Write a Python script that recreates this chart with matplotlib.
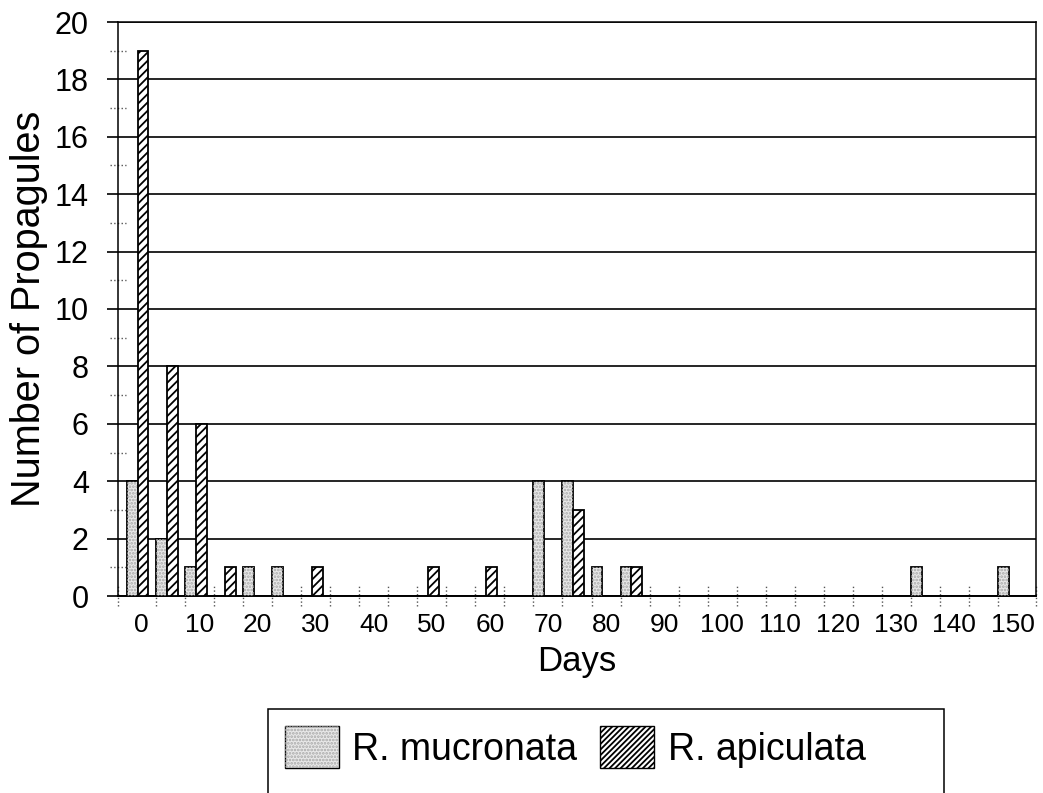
import matplotlib; matplotlib.use("Agg")
import matplotlib.pyplot as plt
import numpy as np
from matplotlib.patches import Patch, Rectangle

# days since start (5-day classes) and propagule counts per species
days = list(range(0, 151, 5))
mucronata = [4, 2, 1, 0, 1, 1, 0, 0, 0, 0, 0, 0, 0, 0, 4, 4,
             1, 1, 0, 0, 0, 0, 0, 0, 0, 0, 0, 1, 0, 0, 1]
apiculata = [19, 8, 6, 1, 0, 0, 1, 0, 0, 0, 1, 0, 1, 0, 0, 3,
             0, 1, 0, 0, 0, 0, 0, 0, 0, 0, 0, 0, 0, 0, 0]
tick_labels = [str(d) for d in days[::2]]

plt.rcParams["font.family"] = ["Liberation Sans", "DejaVu Sans"]
plt.rcParams["hatch.linewidth"] = 1.3

W, H = 1043, 793
fig = plt.figure(figsize=(W / 100, H / 100), dpi=100)
ax = fig.add_axes([118 / W, 1 - 596 / H, (1036 - 118) / W, (596 - 22) / H])

x = np.arange(len(days)); w = 0.37
STIP = "#e9e9e9"
# R. mucronata: light stippled fill
ax.bar(x - 0.315, mucronata, w, color=STIP, edgecolor="black", linewidth=1.3, zorder=3)
ax.bar(x - 0.315, mucronata, w, fill=False, hatch=".....", edgecolor="#a8a8a8", linewidth=0, zorder=3)
# R. apiculata: diagonal hatch
ax.bar(x + 0.055, apiculata, w, color="white", edgecolor="black", hatch="////", linewidth=1.3, zorder=3)

ax.set_xlim(-0.81, len(days) - 1 + 0.81)
ax.set_ylim(0, 20)
ax.set_yticks(np.arange(0, 21, 2))
ax.yaxis.grid(True, color="black", linewidth=1.2)
ax.set_axisbelow(True)
ax.tick_params(axis="y", direction="out", length=8, width=1.2, labelsize=22, pad=13)
ax.set_xticks(x[::2]); ax.set_xticklabels(tick_labels)
ax.tick_params(axis="x", length=0, labelsize=19, pad=12)
for s in ax.spines.values():
    s.set_color("black"); s.set_linewidth(1.1)
ax.spines["bottom"].set_linewidth(1.4)

# dotted minor ticks, as in the original spreadsheet chart
bnd = np.concatenate([[ax.get_xlim()[0]], x[:-1] + 0.5, [ax.get_xlim()[1]]])
ax.vlines(bnd, -0.018, 0.019, transform=ax.get_xaxis_transform(), colors="#555555",
          linestyles=":", linewidth=1, clip_on=False)
ax.hlines(np.arange(1, 20, 2), -0.009, 0.009, transform=ax.get_yaxis_transform(),
          colors="#555555", linestyles=":", linewidth=1, clip_on=False)

ax.set_xlabel("Days", fontsize=25, labelpad=6)
ax.set_ylabel("Number of Propagules", fontsize=28.5, labelpad=5)

# legend box runs off the bottom edge of the figure
fig.add_artist(Rectangle((268 / W, -0.05), (944 - 268) / W, (793 - 709) / H + 0.05,
                         transform=fig.transFigure, fill=False, edgecolor="black", linewidth=1.1))
h1 = (Patch(facecolor=STIP, edgecolor="black", linewidth=1),
      Patch(fill=False, hatch=".....", edgecolor="#a8a8a8", linewidth=0))
h2 = Patch(facecolor="white", edgecolor="black", hatch="//////", linewidth=1)
fig.legend([h1, h2], ["R. mucronata", "R. apiculata"], loc="upper left",
           bbox_to_anchor=(285 / W, 1 - 726 / H), frameon=False, fontsize=27,
           ncol=2, handlelength=1.45, handleheight=1.35, handletextpad=0.35,
           columnspacing=0.6, borderpad=0, borderaxespad=0)

fig.savefig("out.png", dpi=100)
